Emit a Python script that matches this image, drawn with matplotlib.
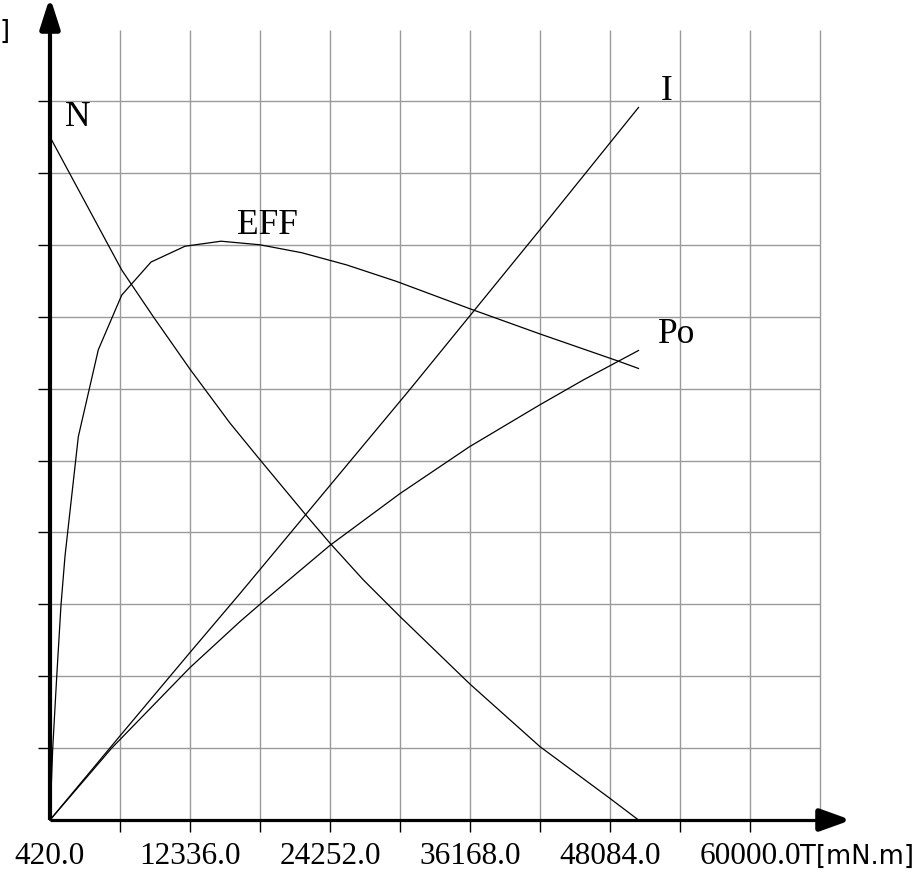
import matplotlib

matplotlib.use("Agg")
import matplotlib.pyplot as plt
from matplotlib.patches import Polygon

# torque axis [mN.m]: one tick per grid column, every other one labelled
x_ticks = [420, 6378, 12336, 18294, 24252, 30210, 36168, 42126, 48084, 54042, 60000, 65958]
x_tick_labels = ["420.0", "", "12336.0", "", "24252.0", "", "36168.0", "",
                 "48084.0", "", "60000.0", ""]
y_grid = [1, 2, 3, 4, 5, 6, 7, 8, 9, 10]

# curves, y given in grid units (the chart prints no y scale)
t_n = [420, 6523, 9212, 12336, 15740, 18294, 22209, 24252, 27086, 30210,
       36168, 42126, 48084, 50510]
n_val = [9.50, 7.65, 7.00, 6.27, 5.52, 5.01, 4.24, 3.85, 3.34, 2.83,
         1.89, 1.02, 0.30, 0.0]

t_i = [420, 6378, 12336, 16592, 31061, 42126, 50510]
i_val = [0.0, 1.17, 2.33, 3.15, 5.99, 8.21, 9.91]

t_po = [420, 5672, 12336, 16592, 18720, 24252, 30210, 36109, 42066, 45810, 50510]
po_val = [0.0, 1.00, 2.12, 2.76, 3.06, 3.82, 4.54, 5.19, 5.77, 6.12, 6.53]

t_eff = [420, 650, 990, 1356, 1697, 2829, 4531, 6523, 9017, 11910, 14975,
         18294, 21843, 25673, 29929, 36168, 42126, 48655, 50510]
eff_val = [0.0, 0.99, 1.99, 2.99, 3.67, 5.33, 6.54, 7.30, 7.76, 7.98, 8.05,
           8.00, 7.89, 7.72, 7.49, 7.11, 6.76, 6.39, 6.28]

W, H = 914, 877
T_PER_PX = (x_ticks[1] - x_ticks[0]) / 70.0   # one grid column = 70 px
PX_PER_Y = 71.9                               # one grid row
ORIGIN = (50, 820)                            # pixel position of (420, 0)


def px2x(px):
    return x_ticks[0] + (px - ORIGIN[0]) * T_PER_PX


def py2y(py):
    return (ORIGIN[1] - py) / PX_PER_Y


fig = plt.figure(figsize=(W / 100, H / 100), dpi=100)
ax = fig.add_axes([0, 0, 1, 1])
ax.set_xlim(px2x(0), px2x(W))
ax.set_ylim(py2y(H), py2y(0))
ax.axis("off")

grid_kw = dict(color="#9a9a9a", lw=1.0, zorder=1)
ax.vlines(x_ticks[1:], 0, py2y(30), **grid_kw)
ax.hlines(y_grid, x_ticks[0], x_ticks[-1], **grid_kw)

# black tick marks
ax.vlines(x_ticks[1:-1], py2y(832), 0, color="black", lw=1.0, zorder=2)
ax.hlines(y_grid, px2x(38), x_ticks[0], color="black", lw=1.0, zorder=2)

# curves
for t, v in [(t_n, n_val), (t_i, i_val), (t_po, po_val), (t_eff, eff_val)]:
    ax.plot(t, v, color="black", lw=0.9, zorder=3)

# axes with rounded arrow heads
ax.plot([x_ticks[0], x_ticks[0]], [0, py2y(30)], color="black", lw=3.0,
        solid_capstyle="butt", zorder=4)
ax.plot([x_ticks[0], px2x(818)], [0, 0], color="black", lw=2.3,
        solid_capstyle="butt", zorder=4)
ax.add_patch(Polygon([(px2x(50), py2y(6)), (px2x(42), py2y(31)), (px2x(58), py2y(31))],
                     closed=True, fc="black", ec="black", lw=4, joinstyle="round", zorder=5))
ax.add_patch(Polygon([(px2x(843), 0), (px2x(818), py2y(811)), (px2x(818), py2y(829))],
                     closed=True, fc="black", ec="black", lw=4, joinstyle="round", zorder=5))

serif = ["Liberation Serif", "DejaVu Serif"]
for t, lab in zip(x_ticks, x_tick_labels):
    if lab:
        ax.text(t, py2y(856), lab, ha="center", va="center", fontsize=22.5,
                family=serif)
ax.text(px2x(800), py2y(857), "T[mN.m]", ha="left", va="center", fontsize=18.5,
        family="DejaVu Sans")
ax.text(px2x(10), py2y(32), "]", ha="right", va="center", fontsize=18.5,
        family="DejaVu Sans")

# curve names
lab_kw = dict(textcoords="offset pixels", ha="center", va="center", fontsize=25.5,
              family=serif, zorder=6)
ax.annotate("N", (t_n[0], n_val[0]), xytext=(28, 19), **lab_kw)
k = eff_val.index(max(eff_val))
ax.annotate("EFF", (t_eff[k], eff_val[k]), xytext=(46, 16), **lab_kw)
ax.annotate("I", (t_i[-1], i_val[-1]), xytext=(28, 16), **lab_kw)
ax.annotate("Po", (t_po[-1], po_val[-1]), xytext=(38, 16), **lab_kw)

fig.savefig("out.png", dpi=100)
